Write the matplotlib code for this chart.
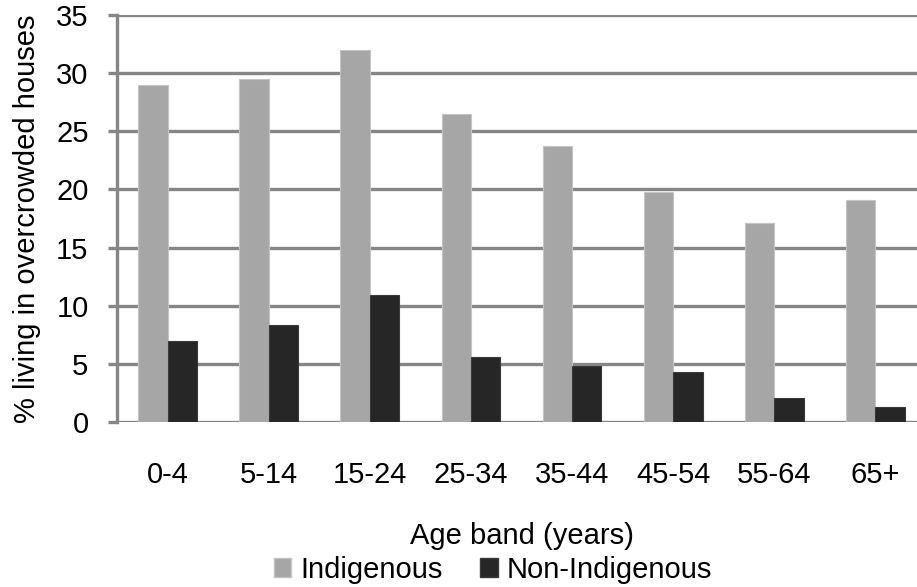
import numpy as np
import matplotlib
matplotlib.use("Agg")
import matplotlib.pyplot as plt
from matplotlib.patches import Patch

# data
AGE_BANDS = ["0-4", "5-14", "15-24", "25-34", "35-44", "45-54", "55-64", "65+"]
INDIGENOUS = [29.0, 29.5, 32.0, 26.5, 23.7, 19.8, 17.1, 19.1]
NON_INDIGENOUS = [7.0, 8.3, 10.9, 5.6, 4.8, 4.3, 2.1, 1.3]
Y_TICKS = [0, 5, 10, 15, 20, 25, 30, 35]

C_IND = "#a6a6a6"
C_NON = "#262626"
GRID = "#868686"
FS = 21

plt.rcParams["font.family"] = ["Liberation Sans", "DejaVu Sans"]

fig = plt.figure(figsize=(9.17, 5.87), dpi=100)
# plot area runs slightly past the right edge, as in the reference
ax = fig.add_axes([117 / 917, 1 - 422 / 587, (926 - 117) / 917, (422 - 15) / 587])

x = np.arange(len(AGE_BANDS))
w = 0.29
ax.bar(x - w / 2, INDIGENOUS, width=w, color=C_IND, edgecolor="#c4c4c4", linewidth=0.8, zorder=3)
ax.bar(x + w / 2, NON_INDIGENOUS, width=w, color=C_NON, edgecolor="#3a3a3a", linewidth=0.8, zorder=3)

ax.set_xlim(-0.5, len(AGE_BANDS) - 0.5)
ax.set_ylim(0, 35)
ax.set_yticks(Y_TICKS)
ax.set_xticks(x)
ax.set_xticklabels(AGE_BANDS)
ax.yaxis.grid(True, color=GRID, linewidth=2.4, zorder=0)
ax.set_axisbelow(True)

for s in ["top", "right", "bottom"]:
    ax.spines[s].set_visible(False)
ax.spines["left"].set_color(GRID)
ax.spines["left"].set_linewidth(2.4)

ax.tick_params(axis="y", length=6.5, width=2.4, color=GRID, pad=14, labelsize=FS)
ax.tick_params(axis="x", length=0, pad=28, labelsize=FS)

ax.set_xlabel("Age band (years)", fontsize=FS, labelpad=24)
ax.set_ylabel("% living in overcrowded houses", fontsize=FS)
ax.yaxis.set_label_coords(-0.094, 0.5)

handles = [Patch(facecolor=C_IND, edgecolor="#c4c4c4"), Patch(facecolor=C_NON, edgecolor="#3a3a3a")]
fig.legend(handles, ["Indigenous", "Non-Indigenous"], loc="center",
           bbox_to_anchor=(493 / 917, 1 - 570 / 587), ncol=2, frameon=False,
           fontsize=FS, handlelength=0.6, handleheight=0.6, handletextpad=0.3,
           columnspacing=1.3, borderpad=0, borderaxespad=0)

fig.savefig("out.png", dpi=100)
